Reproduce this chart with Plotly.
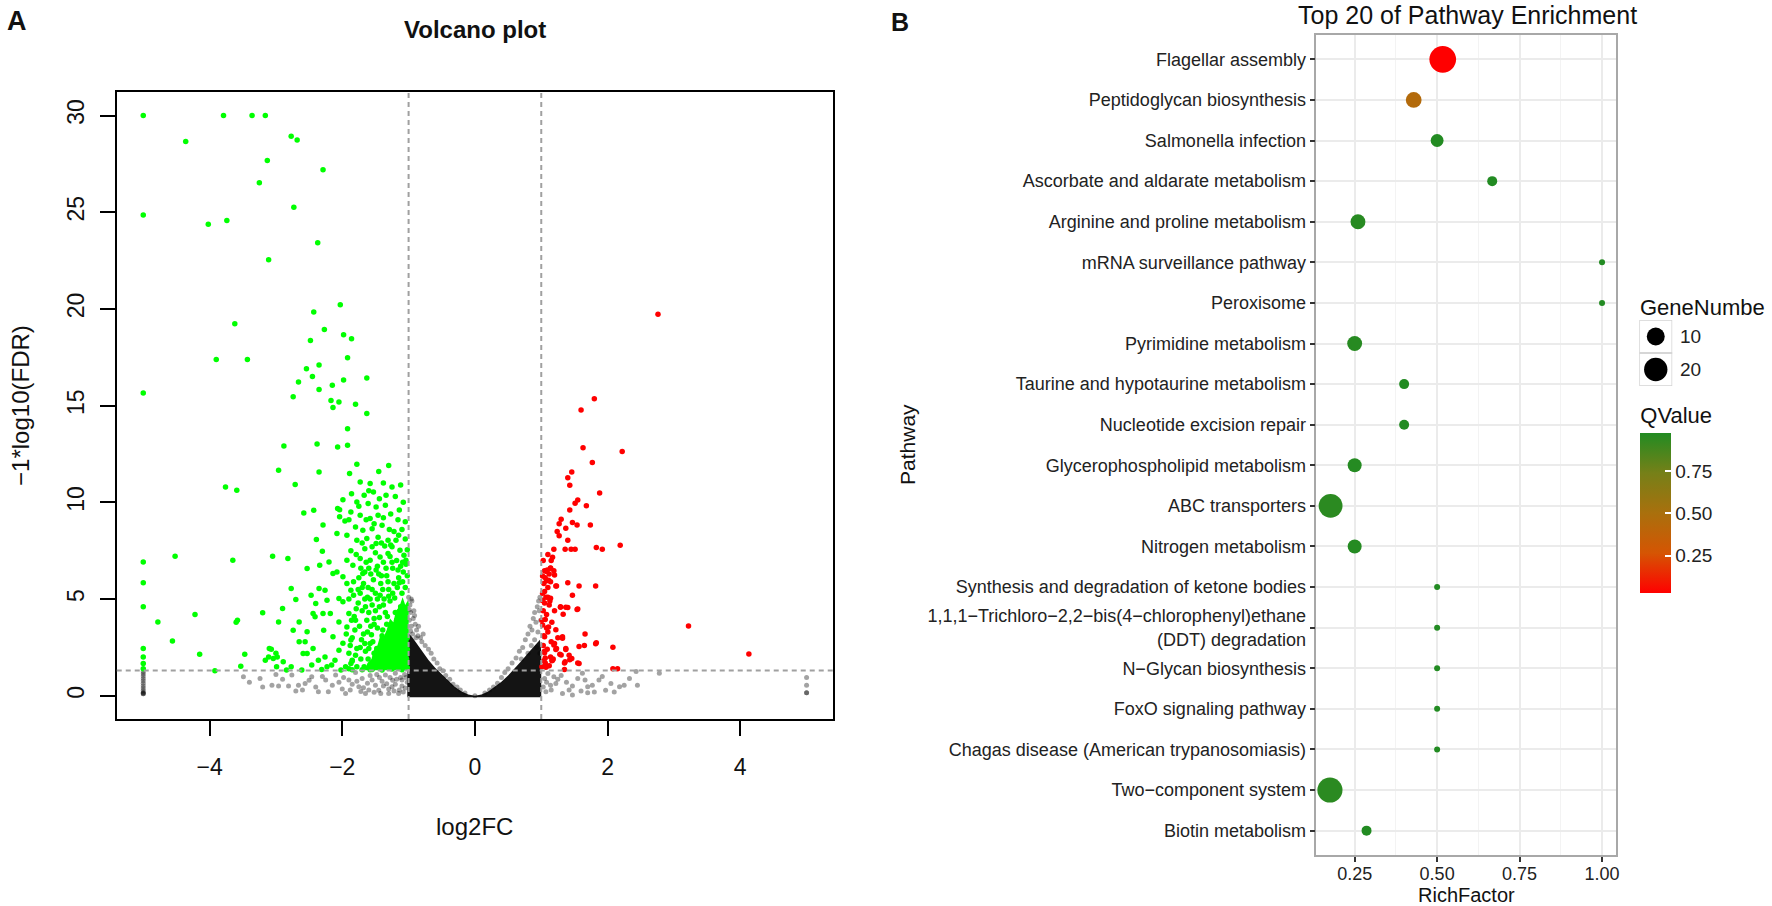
import math
import plotly.graph_objects as go

W, H = 1772, 906

# ---------------- Panel A : volcano plot ----------------
# down-regulated genes (green): (log2FC, -log10 FDR)
down_pts = [
    (-5.0, 30.0), (-3.79, 30.0), (-3.36, 30.0), (-3.16, 30.0), (-4.36, 28.65), (-2.77, 28.93), (-2.68, 28.74),
    (-3.13, 27.67), (-2.29, 27.19), (-3.25, 26.52), (-5.0, 24.86), (-4.02, 24.38), (-3.74, 24.57), (-2.73, 25.26),
    (-2.37, 23.42), (-3.11, 22.54), (-2.03, 20.22), (-2.43, 19.84), (-3.62, 19.23), (-2.27, 18.94), (-1.98, 18.67),
    (-1.86, 18.46), (-2.48, 18.37), (-3.90, 17.39), (-3.43, 17.39), (-1.92, 17.48), (-2.54, 16.91), (-2.35, 17.10),
    (-2.45, 16.51), (-2.66, 16.22), (-1.63, 16.43), (-1.98, 16.32), (-2.15, 16.05), (-2.35, 15.84), (-2.74, 15.46),
    (-2.17, 15.27), (-2.05, 15.19), (-2.14, 14.90), (-1.80, 15.07), (-1.63, 14.59), (-1.92, 13.81), (-5.0, 15.65),
    (-2.88, 12.91), (-2.38, 13.02), (-2.07, 12.86), (-1.92, 12.95),
    (-2.96, 11.66), (-2.35, 11.57), (-1.78, 11.97), (-3.76, 10.80), (-3.59, 10.63), (-2.71, 10.92), (-1.89, 11.49),
    (-1.86, 10.45), (-1.73, 11.05), (-1.58, 10.97), (-1.53, 10.54), (-1.67, 10.37), (-1.44, 10.19), (-1.34, 10.37),
    (-1.35, 9.85), (-1.49, 9.76), (-1.61, 9.94), (-1.78, 10.02), (-2.07, 9.68), (-2.04, 9.25), (-1.87, 9.50),
    (-1.73, 9.33), (-1.58, 9.16), (-1.46, 9.33), (-1.40, 8.82), (-1.55, 8.64), (-1.69, 8.56), (-1.80, 8.73),
    (-1.93, 8.30), (-1.78, 8.04), (-1.63, 8.13), (-1.49, 7.87), (-1.31, 8.04), (-1.25, 7.70), (-1.19, 8.04),
    (-1.13, 7.53), (-1.07, 7.27), (-1.04, 7.01), (-1.31, 7.36), (-1.43, 7.18), (-1.58, 7.01), (-1.73, 7.10),
    (-1.84, 6.75), (-1.69, 6.32), (-1.99, 6.15), (-2.14, 6.32), (-2.20, 6.92), (-2.35, 5.55), (-2.40, 4.77),
    (-1.87, 5.46), (-1.99, 4.86), (-2.05, 3.82), (-1.93, 3.56), (-1.80, 3.91), (-1.99, 2.71), (-1.78, 2.45),
    (-1.87, 1.67), (-2.11, 1.84), (-2.02, 1.33), (-2.26, 2.01), (-2.44, 2.45), (-2.59, 2.19), (-2.65, 2.79),
    (-2.74, 3.39), (-2.65, 3.82), (-2.53, 3.31), (-2.44, 4.25), (-2.29, 4.25), (-2.23, 4.94), (-2.77, 1.50),
    (-2.61, 1.33), (-2.46, 1.59), (-2.31, 1.36), (-2.16, 1.59), (-3.00, 2.20), (-3.07, 2.41),
    (-5.0, 6.92), (-5.0, 5.84), (-5.0, 4.60), (-5.0, 2.45), (-5.0, 2.01), (-5.0, 1.67), (-5.0, 1.40),
    (-4.52, 7.22), (-3.65, 7.01), (-4.22, 4.20), (-4.78, 3.82), (-3.58, 3.91), (-3.60, 3.80), (-3.20, 4.29),
    (-4.56, 2.83), (-4.15, 2.15), (-3.47, 2.15), (-3.53, 1.53), (-3.92, 1.30), (-3.05, 7.22), (-2.82, 7.10),
    (-2.96, 3.81), (-2.90, 4.51), (-2.77, 5.55), (-3.10, 2.45), (-2.98, 2.01), (-2.89, 1.76), (-2.84, 1.33),
    (-2.56, 2.79), (-3.16, 1.84), (-3.11, 2.01), (-3.04, 1.93), (-2.99, 1.50),
    (-2.58, 9.45), (-2.43, 9.59), (-2.29, 8.83), (-2.39, 8.08), (-2.30, 7.47), (-2.53, 6.58), (-2.34, 6.75),
    (-2.70, 4.98), (-2.47, 5.20), (-2.26, 5.46), (-2.05, 5.03), (-2.41, 4.08), (-2.18, 4.25), (-2.28, 3.39),
    (-2.14, 3.05), (-2.53, 2.19), (-2.36, 1.84), (-2.23, 1.50), (-2.05, 2.36), (-2.08, 6.40), (-2.08, 8.39),
    (-2.04, 9.62), (-1.99, 10.14), (-1.96, 9.04), (-1.93, 7.01), (-1.93, 5.80), (-1.90, 4.25), (-1.87, 2.88),
    (-1.85, 1.84),
    (-1.95, 1.50), (-1.90, 2.20), (-1.85, 3.00), (-1.82, 4.10), (-1.76, 4.80), (-1.70, 5.60), (-1.66, 6.40),
    (-1.62, 5.10), (-1.60, 4.30), (-1.57, 3.60), (-1.53, 6.00), (-1.50, 5.30), (-1.47, 6.70), (-1.42, 5.80),
    (-1.38, 6.90), (-1.33, 6.20), (-1.28, 7.20), (-1.24, 6.60), (-1.18, 7.00), (-1.12, 6.70), (-1.08, 6.40),
    (-1.04, 6.80), (-1.02, 6.20), (-1.15, 6.10), (-1.22, 5.80), (-1.30, 5.50), (-1.37, 5.00), (-1.44, 4.60),
    (-1.52, 4.00), (-1.58, 2.70), (-1.65, 2.30), (-1.72, 1.90), (-1.78, 1.50), (-1.68, 3.20), (-1.74, 3.60),
    (-1.63, 3.90), (-1.55, 4.70), (-1.90, 1.40), (-1.85, 1.80),
    (-1.10, 8.60), (-1.16, 9.10), (-1.22, 8.50), (-1.05, 8.10), (-1.27, 9.40), (-1.20, 10.30), (-1.12, 10.90),
    (-1.38, 11.00), (-1.46, 8.20), (-1.66, 7.60), (-1.50, 7.40), (-1.36, 7.75), (-1.02, 7.55), (-1.09, 5.90),
    (-1.70, 4.40), (-1.66, 5.00), (-1.83, 5.20), (-1.75, 6.10), (-1.60, 6.60), (-1.45, 6.30),
    (-1.10, 1.35), (-1.25, 1.38), (-1.40, 1.33), (-1.55, 1.36), (-1.70, 1.34), (-1.02, 1.45),
    (-1.06, 1.60), (-1.13, 2.10), (-1.19, 1.50), (-1.27, 2.40), (-1.33, 1.80), (-1.41, 2.60), (-1.47, 1.70),
    (-1.52, 2.20), (-1.61, 1.90), (-1.67, 1.50), (-1.73, 2.50), (-1.80, 2.10), (-1.88, 2.60), (-1.94, 3.20),
    (-1.81, 3.40), (-1.71, 2.90), (-1.62, 3.30), (-1.54, 2.80), (-1.47, 3.50), (-1.40, 3.10), (-1.33, 3.70),
    (-1.25, 3.30), (-1.18, 3.90), (-1.11, 3.50), (-1.05, 4.20), (-1.12, 4.60), (-1.20, 4.30), (-1.28, 4.90),
    (-1.35, 4.30), (-1.43, 5.20), (-1.50, 4.40), (-1.58, 5.00), (-1.65, 4.60), (-1.73, 5.30), (-1.79, 4.50),
    (-1.86, 3.90), (-1.90, 5.00), (-1.83, 5.90), (-1.76, 5.50), (-1.68, 5.80), (-1.61, 5.60), (-1.55, 5.50),
    (-1.47, 5.00), (-1.39, 5.50), (-1.31, 5.90), (-1.24, 5.30), (-1.17, 5.60), (-1.10, 5.30), (-1.05, 5.60),
    (-1.09, 6.90), (-1.16, 6.50), (-1.25, 6.90), (-1.34, 6.60), (-1.41, 6.20), (-1.49, 6.50), (-1.57, 6.30),
    (-1.64, 6.90), (-1.72, 6.60), (-1.79, 7.30), (-1.87, 7.50), (-1.70, 7.90), (-1.55, 7.70), (-1.41, 7.90),
    (-1.27, 7.80), (-1.15, 8.30), (-1.05, 9.00), (-1.14, 9.60), (-1.29, 8.60), (-1.38, 9.20), (-1.52, 8.90),
    (-1.64, 9.10), (-1.75, 9.80), (-1.90, 9.10), (-1.08, 10.00), (-1.25, 10.80), (-1.45, 11.60), (-1.30, 11.90),
    (-1.60, 10.60), (-1.02, 3.00), (-1.02, 2.40), (-1.03, 1.90), (-1.08, 2.80), (-1.15, 3.00), (-1.22, 2.70),
    (-1.30, 2.30), (-1.37, 2.00), (-1.43, 1.45), (-1.58, 1.35), (-1.85, 1.35),
    (-1.48, 2.45), (-1.56, 3.15), (-1.44, 4.05), (-1.38, 4.70), (-1.30, 5.15), (-1.21, 5.05), (-1.14, 5.85),
    (-1.60, 2.45), (-1.66, 2.70), (-1.52, 3.70), (-1.39, 3.40), (-1.32, 4.10),
]
# solid part of the green cloud (outline)
down_core_pts = [
    (-1.0, 1.32), (-1.0, 5.0), (-1.05, 4.7), (-1.09, 5.1), (-1.14, 4.6), (-1.19, 4.4), (-1.23, 3.8),
    (-1.28, 4.0), (-1.33, 3.4), (-1.38, 3.0), (-1.42, 3.2), (-1.47, 2.6), (-1.52, 2.4), (-1.56, 1.9),
    (-1.62, 1.7), (-1.66, 1.32),
]
# up-regulated genes (red)
up_pts = [
    (2.76, 19.73), (1.80, 15.36), (1.60, 14.78), (1.63, 12.82), (2.22, 12.63), (1.77, 12.06), (1.46, 11.57),
    (1.40, 11.27), (1.43, 10.88), (1.88, 10.49), (1.55, 10.12), (1.51, 9.95), (1.68, 9.82), (1.43, 9.61),
    (1.30, 9.13), (1.27, 8.90), (1.47, 8.96), (1.54, 8.83), (1.74, 8.83), (1.24, 8.50), (1.27, 8.27),
    (1.37, 8.66), (1.40, 8.04), (1.19, 7.58), (1.36, 7.58), (1.45, 7.58), (1.51, 7.58), (1.83, 7.67),
    (1.92, 7.58), (2.19, 7.78), (1.17, 7.16), (1.14, 6.61), (1.08, 6.43), (1.02, 6.19), (1.19, 6.47),
    (1.11, 5.97), (1.22, 5.67), (1.40, 5.85), (1.57, 5.67), (1.82, 5.67), (1.05, 5.39), (1.14, 5.04),
    (1.02, 4.93), (1.47, 5.20), (1.29, 4.58), (1.37, 4.58), (1.54, 4.46), (1.33, 4.21), (1.02, 3.66),
    (1.11, 3.55), (1.22, 3.42), (3.22, 3.61), (1.32, 2.97), (1.66, 3.20), (1.57, 2.55), (1.65, 2.60),
    (1.82, 2.69), (2.08, 2.51), (4.13, 2.16), (1.05, 2.23), (1.14, 2.00), (1.22, 2.39), (1.30, 2.11),
    (1.37, 2.39), (1.43, 1.86), (1.35, 1.69), (1.04, 1.81), (1.16, 1.81), (1.55, 1.69), (1.08, 1.53),
    (2.08, 1.40), (2.15, 1.40), (1.23, 5.67), (1.29, 4.60), (1.40, 4.57), (1.55, 4.49), (1.32, 3.05),
    (1.83, 2.74), (1.19, 2.62), (1.23, 2.45), (1.37, 2.45), (1.42, 2.10), (1.28, 2.15), (1.17, 1.84),
    (1.36, 1.76), (1.57, 1.67), (1.46, 1.93), (1.07, 1.48), (1.35, 1.36), (1.06, 1.96), (1.05, 2.30),
    (1.05, 3.05), (1.08, 3.50), (1.06, 3.95), (1.10, 5.10), (1.08, 5.95), (1.05, 6.47), (1.14, 6.60),
    (1.20, 6.25), (1.13, 4.90), (1.01, 1.50), (1.03, 2.60), (1.04, 3.10), (1.01, 3.90), (1.03, 4.40),
    (1.05, 4.80), (1.02, 5.30), (1.04, 5.80), (1.06, 6.10), (1.09, 6.50), (1.12, 6.30), (1.14, 5.90),
    (1.10, 5.60), (1.07, 5.10), (1.12, 4.70), (1.08, 4.20), (1.10, 3.30), (1.15, 2.80), (1.09, 2.40),
    (1.06, 1.70), (1.12, 1.55), (1.18, 1.90), (1.20, 2.70), (1.25, 3.00), (1.16, 3.80), (1.20, 4.40),
    (1.03, 7.00), (1.10, 7.30), (1.15, 7.00),
]
# not significant genes (grey / black, semi-transparent)
ns_pts = [
    (-5.0, 0.10), (-5.0, 0.18), (-5.0, 0.28), (-5.0, 0.40), (-5.0, 0.52), (-5.0, 0.65), (-5.0, 0.78),
    (-5.0, 0.90), (-5.0, 1.02), (-5.0, 1.14), (-5.0, 1.24), (-5.0, 0.10), (-5.0, 0.14),
    (5.0, 0.16), (5.0, 0.16), (5.0, 0.55), (5.0, 0.95),
    (-3.49, 0.98), (-3.24, 0.90), (-3.06, 0.55), (-2.96, 0.50), (-2.81, 0.50), (-2.66, 0.55), (-2.56, 0.64),
    (-2.46, 0.98), (-2.76, 1.07), (-2.36, 0.21), (-2.21, 0.21), (-2.25, 0.81), (-2.10, 1.07), (-1.95, 0.12),
    (-1.90, 0.81), (-1.80, 1.20), (-1.75, 0.47), (-1.65, 0.12), (-1.55, 0.81), (-1.45, 0.29), (-1.35, 1.07),
    (-1.25, 0.47), (-1.15, 0.12), (-1.20, 1.16), (-1.10, 0.81), (-1.30, 0.12), (-2.00, 0.35), (-1.85, 0.60),
    (-1.70, 0.90), (-1.60, 0.30), (-1.50, 0.55), (-1.40, 0.75), (-1.30, 0.35), (-1.20, 0.60), (-1.12, 0.95),
    (-1.05, 0.40), (-1.08, 0.20), (-1.18, 0.85), (-1.28, 0.95), (-1.38, 0.50), (-1.48, 1.10), (-1.62, 0.65),
    (-2.60, 0.30), (-2.90, 0.85), (-3.20, 0.45), (-3.40, 0.70), (-2.40, 0.45), (-2.15, 0.55), (-1.98, 0.95),
    (-1.72, 0.22), (-1.42, 0.12), (-1.22, 0.25), (-1.06, 1.10), (-1.02, 0.70), (-1.04, 0.95), (-1.10, 0.50),
    (-1.14, 0.30), (-1.24, 0.80), (-1.33, 0.62), (-1.44, 0.95), (-1.52, 0.18), (-1.58, 1.05), (-1.68, 0.42),
    (-1.78, 0.75), (-1.88, 0.30), (-2.05, 0.70), (-2.30, 1.00), (-2.50, 0.80), (-2.70, 0.25), (-3.00, 1.10),
    (1.19, 0.98), (1.22, 0.64), (1.32, 0.12), (1.47, 0.50), (1.62, 1.16), (1.66, 0.81), (1.70, 0.47),
    (1.77, 0.55), (1.87, 0.81), (1.97, 0.29), (2.05, 0.64), (2.18, 0.47), (2.25, 0.55), (2.33, 0.90),
    (2.43, 1.25), (2.45, 0.55), (2.78, 1.16), (1.47, 0.04), (1.70, 0.16), (1.14, 0.55), (1.07, 0.21),
    (1.05, 0.90), (1.10, 1.15), (1.15, 0.30), (1.25, 0.85), (1.30, 1.05), (1.38, 0.70), (1.42, 0.30),
    (1.55, 0.90), (1.60, 0.25), (1.80, 0.20), (1.92, 1.00), (2.10, 0.20), (1.03, 0.45), (1.08, 0.70),
    (-1.00, 5.10), (-0.98, 4.70), (-0.97, 4.30), (-0.95, 4.90), (-0.93, 4.00), (-0.90, 3.70), (-0.92, 4.40),
    (-0.88, 3.40), (-0.85, 3.60), (-0.86, 3.10), (-0.82, 3.00), (-0.80, 2.80), (-0.96, 3.60), (-0.99, 3.90),
    (-0.78, 3.20), (-0.75, 2.60), (-0.70, 2.40), (-0.66, 2.20), (-0.62, 1.90), (-0.57, 1.70), (-0.53, 1.40),
    (-0.48, 1.30), (-0.44, 1.05), (-0.38, 0.85), (-0.33, 0.60), (-0.27, 0.45), (-0.22, 0.30), (-0.15, 0.15),
    (-0.97, 3.35), (-0.94, 3.20), (-0.89, 3.00), (-0.99, 4.45), (-0.96, 5.00), (-0.91, 4.15),
    (0.15, 0.15), (0.22, 0.30), (0.28, 0.45), (0.34, 0.65), (0.40, 0.95), (0.45, 1.20), (0.50, 1.40),
    (0.56, 1.70), (0.62, 1.95), (0.67, 2.30), (0.72, 2.50), (0.76, 2.90), (0.80, 3.20), (0.83, 3.60),
    (0.86, 3.40), (0.88, 4.00), (0.90, 4.30), (0.92, 3.80), (0.94, 4.60), (0.96, 4.90), (0.98, 5.10),
    (0.97, 4.40), (0.99, 3.90), (0.95, 3.30), (0.90, 2.90), (0.85, 2.60), (0.93, 2.50), (0.98, 2.20),
    (0.80, 2.20), (0.70, 1.90), (0.0, 0.0),
]
# dense solid part of the black "V" (outline)
ns_core_pts = [
    (-1.02, -0.08), (-1.02, 3.3), (-0.95, 3.05), (-0.90, 2.8), (-0.85, 2.55), (-0.80, 2.3), (-0.70, 1.85),
    (-0.60, 1.45), (-0.50, 1.1), (-0.40, 0.75), (-0.30, 0.45), (-0.20, 0.22), (-0.10, 0.07), (0.0, 0.0),
    (0.10, 0.07), (0.20, 0.22), (0.30, 0.45), (0.40, 0.72), (0.50, 1.05), (0.60, 1.4), (0.70, 1.8),
    (0.80, 2.2), (0.90, 2.6), (0.98, 2.9), (1.0, 2.3), (1.0, -0.08),
]
a_xticks = [-4, -2, 0, 2, 4]
a_yticks = [0, 5, 10, 15, 20, 25, 30]
fc_cutoff = 1.0
fdr_cutoff = 0.05

# ---------------- Panel B : pathway enrichment ----------------
pathways = [
    "Flagellar assembly", "Peptidoglycan biosynthesis", "Salmonella infection",
    "Ascorbate and aldarate metabolism", "Arginine and proline metabolism", "mRNA surveillance pathway",
    "Peroxisome", "Pyrimidine metabolism", "Taurine and hypotaurine metabolism", "Nucleotide excision repair",
    "Glycerophospholipid metabolism", "ABC transporters", "Nitrogen metabolism",
    "Synthesis and degradation of ketone bodies",
    "1,1,1\u2212Trichloro\u22122,2\u2212bis(4\u2212chlorophenyl)ethane<br>(DDT) degradation",
    "N\u2212Glycan biosynthesis", "FoxO signaling pathway", "Chagas disease (American trypanosomiasis)",
    "Two\u2212component system", "Biotin metabolism",
]
rich_factor = [0.517, 0.429, 0.50, 0.667, 0.26, 1.0, 1.0, 0.25, 0.40, 0.40,
               0.25, 0.177, 0.25, 0.50, 0.50, 0.50, 0.50, 0.50, 0.175, 0.286]
gene_number = [28, 7, 4, 2, 6, 1, 1, 6, 2, 2, 5, 21, 5, 1, 1, 1, 1, 1, 24, 2]
q_value = [0.03, 0.45, 0.97, 0.974, 0.96, 0.974, 0.974, 0.96, 0.974, 0.974,
           0.965, 0.95, 0.965, 0.974, 0.974, 0.974, 0.974, 0.974, 0.95, 0.974]
size_legend_values = [10, 20]
q_ticks = [0.25, 0.50, 0.75]
rich_ticks = [0.25, 0.50, 0.75, 1.00]

FONT = "Liberation Sans, Arial, sans-serif"


def fx(px):
    return px / W


def fy(py):
    return 1 - py / H


def split(pts):
    return [p[0] for p in pts], [p[1] for p in pts]


dx, dy = split(down_pts)
ux, uy = split(up_pts)
nx, ny = split(ns_pts)
dcx, dcy = split(down_core_pts)
ncx, ncy = split(ns_core_pts)

allx = dx + ux + nx
ally = dy + uy + ny
xr = max(allx) - min(allx)
yr = max(ally) - min(ally)
a_xrange = [min(allx) - 0.04 * xr, max(allx) + 0.04 * xr]
a_yrange = [min(ally) - 0.04 * yr, max(ally) + 0.04 * yr]
y_cut = -math.log10(fdr_cutoff)

fig = go.Figure()

fig.add_trace(go.Scatter(x=ncx, y=ncy, mode="lines", fill="toself", fillcolor="rgba(0,0,0,0.92)",
                         line=dict(width=0), hoverinfo="skip", showlegend=False))
fig.add_trace(go.Scatter(x=nx, y=ny, mode="markers",
                         marker=dict(color="rgba(0,0,0,0.36)", size=5, line=dict(width=0)),
                         showlegend=False))
fig.add_trace(go.Scatter(x=dcx, y=dcy, mode="lines", fill="toself", fillcolor="#00ff00",
                         line=dict(width=0), hoverinfo="skip", showlegend=False))
fig.add_trace(go.Scatter(x=dx, y=dy, mode="markers",
                         marker=dict(color="#00ff00", size=5.5, line=dict(width=0)), showlegend=False))
fig.add_trace(go.Scatter(x=ux, y=uy, mode="markers",
                         marker=dict(color="#ff0000", size=5.5, line=dict(width=0)), showlegend=False))

# ---- Panel B points ----
gmin, gmax = min(gene_number), max(gene_number)
DMIN, DMAX = 6.0, 26.7


def gsize(g):
    return DMIN + (DMAX - DMIN) * math.sqrt((g - gmin) / (gmax - gmin))


colorscale = [[0.0, "rgb(255,0,0)"], [0.25, "rgb(213,85,3)"], [0.5, "rgb(169,112,13)"],
              [0.75, "rgb(118,128,24)"], [1.0, "rgb(34,139,34)"]]
fig.add_trace(go.Scatter(
    x=rich_factor, y=pathways, xaxis="x2", yaxis="y2", mode="markers", showlegend=False,
    marker=dict(size=[gsize(g) for g in gene_number], color=q_value, colorscale=colorscale,
                cmin=min(q_value), cmax=max(q_value), line=dict(width=0), opacity=1,
                colorbar=dict(x=fx(1644), xanchor="left", y=fy(498), yanchor="middle",
                              len=190, lenmode="pixels", thickness=31, thicknessmode="pixels",
                              xpad=0, ypad=0, outlinewidth=0,
                              tickvals=q_ticks, ticktext=["%.2f" % t for t in q_ticks],
                              ticks="inside", ticklen=6, tickcolor="white", tickwidth=1.5,
                              tickfont=dict(size=19, color="#222", family=FONT),
                              title=dict(text="QValue", side="top",
                                         font=dict(size=22, color="#111", family=FONT))))))

# size legend keys
fig.add_trace(go.Scatter(
    x=[0.5] * len(size_legend_values), y=[i + 0.5 for i in range(len(size_legend_values))],
    xaxis="x3", yaxis="y3", mode="markers", showlegend=False, hoverinfo="skip",
    marker=dict(color="#000000", opacity=1, size=[gsize(v) for v in size_legend_values], line=dict(width=0))))

shapes = []
for xv in (-fc_cutoff, fc_cutoff):
    shapes.append(dict(type="line", xref="x", yref="y domain", x0=xv, x1=xv, y0=0, y1=1,
                       line=dict(color="#a0a0a0", width=2, dash="5px,4px"), layer="above"))
shapes.append(dict(type="line", xref="x domain", yref="y", x0=0, x1=1, y0=y_cut, y1=y_cut,
                   line=dict(color="#a0a0a0", width=2, dash="5px,4px"), layer="above"))
for i in range(len(size_legend_values)):
    shapes.append(dict(type="rect", xref="x3", yref="y3", x0=0, x1=1, y0=i, y1=i + 1,
                       line=dict(color="#d4d4d4", width=1.5), fillcolor="rgba(0,0,0,0)", layer="below"))

annotations = [
    dict(text="<b>A</b>", x=fx(17), y=fy(21), font=dict(size=27)),
    dict(text="<b>Volcano plot</b>", x=fx(476), y=fy(30), font=dict(size=24)),
    dict(text="\u22121*log10(FDR)", x=fx(21), y=fy(405), font=dict(size=24), textangle=-90),
    dict(text="log2FC", x=fx(476), y=fy(826), font=dict(size=24)),
    dict(text="<b>B</b>", x=fx(902), y=fy(22), font=dict(size=25)),
    dict(text="Top 20 of Pathway Enrichment", x=fx(1471), y=fy(15), font=dict(size=25)),
    dict(text="Pathway", x=fx(909), y=fy(444), font=dict(size=21), textangle=-90),
    dict(text="RichFactor", x=fx(1470), y=fy(895), font=dict(size=20)),
    dict(text="GeneNumbe", x=fx(1642), y=fy(307), font=dict(size=22), xanchor="left"),
]
for a in annotations:
    a.setdefault("xref", "paper")
    a.setdefault("yref", "paper")
    a.setdefault("xanchor", "center")
    a["yanchor"] = "middle"
    a["showarrow"] = False
    a["font"].setdefault("family", FONT)
    a["font"].setdefault("color", "#111")
for i, v in enumerate(size_legend_values):
    annotations.append(dict(text=str(v), xref="paper", yref="y3", x=fx(1682), y=i + 0.5,
                            xanchor="left", yanchor="middle", showarrow=False,
                            font=dict(size=19, family=FONT, color="#222")))

rmin, rmax = min(rich_factor), max(rich_factor)
rr = rmax - rmin
b_xrange = [rmin - 0.05 * rr, rmax + 0.05 * rr]
n = len(pathways)

fig.update_layout(
    width=W, height=H, margin=dict(l=0, r=0, t=0, b=0),
    paper_bgcolor="white", plot_bgcolor="white", showlegend=False,
    font=dict(family=FONT, color="#111"),
    xaxis=dict(domain=[fx(117), fx(835)], anchor="y", range=a_xrange, tickvals=a_xticks,
               ticks="outside", ticklen=15, tickwidth=2, tickcolor="black",
               showline=True, mirror=True, linecolor="black", linewidth=2,
               showgrid=False, zeroline=False, tickfont=dict(size=23, color="#111"),
               ticklabelstandoff=11),
    yaxis=dict(domain=[fy(719), fy(92.3)], anchor="x", range=a_yrange, tickvals=a_yticks,
               ticks="outside", ticklen=15, tickwidth=2, tickcolor="black", tickangle=-90,
               showline=True, mirror=True, linecolor="black", linewidth=2,
               showgrid=False, zeroline=False, tickfont=dict(size=23, color="#111"),
               ticklabelstandoff=7),
    xaxis2=dict(domain=[fx(1319.3), fx(1619.3)], anchor="y2", range=b_xrange, tickvals=rich_ticks,
                ticktext=["%.2f" % t for t in rich_ticks],
                ticks="outside", ticklen=5, tickwidth=1.5, tickcolor="#333",
                showline=True, mirror=True, linecolor="#a8a8a8", linewidth=1.5,
                showgrid=True, gridcolor="#ebebeb", gridwidth=1.5, zeroline=False,
                minor=dict(tickvals=[0.125, 0.375, 0.625, 0.875], showgrid=True,
                           gridcolor="#f3f3f3", gridwidth=1),
                tickfont=dict(size=18, color="#222"), ticklabelstandoff=-3),
    yaxis2=dict(domain=[fy(855), fy(35)], anchor="x2", type="category",
                categoryorder="array", categoryarray=pathways, range=[n - 1 + 0.6, -0.6],
                ticks="outside", ticklen=5, tickwidth=1.5, tickcolor="#333",
                showline=True, mirror=True, linecolor="#a8a8a8", linewidth=1.5,
                showgrid=True, gridcolor="#ebebeb", gridwidth=1.5, zeroline=False,
                tickfont=dict(size=18, color="#222")),
    xaxis3=dict(domain=[fx(1643), fx(1676)], anchor="y3", range=[0, 1], visible=False, fixedrange=True),
    yaxis3=dict(domain=[fy(386), fy(320)], anchor="x3", range=[len(size_legend_values), 0],
                visible=False, fixedrange=True),
    shapes=shapes, annotations=annotations,
)

fig.write_html("out.html", config={"displayModeBar": False},
               post_script="document.body.style.margin='0px';document.body.style.overflow='hidden';")
